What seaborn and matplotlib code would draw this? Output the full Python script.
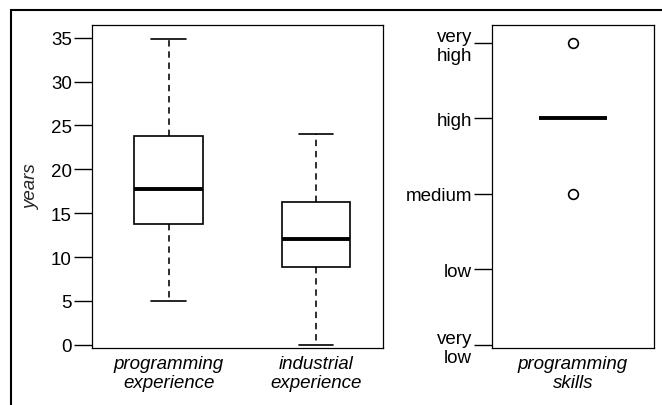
import matplotlib

matplotlib.use("Agg")

import matplotlib.pyplot as plt
import pandas as pd
import seaborn as sns
from matplotlib.patches import Rectangle

# five-number summaries: min, Q1, median, Q3, max
EXPERIENCE_LABELS = ["programming\nexperience", "industrial\nexperience"]
PROGRAMMING_YEARS = [5.0, 13.75, 17.75, 23.75, 34.8]
INDUSTRIAL_YEARS = [0.0, 8.9, 12.0, 16.3, 24.0]
YEAR_TICKS = [0, 5, 10, 15, 20, 25, 30, 35]

# skills coded 1..5; mostly "high", one "medium" and one "very high"
SKILL_LEVELS = ["very\nlow", "low", "medium", "high", "very\nhigh"]
SKILL_CODES = [1, 2, 3, 4, 5]
SKILL_LABEL = "programming\nskills"
PROGRAMMING_SKILLS = [3, 4, 4, 4, 5]

W, H = 662, 406
FONT_SIZE = 13.5

sns.set_style("white")
plt.rcParams["font.family"] = ["Liberation Sans", "DejaVu Sans"]
plt.rcParams["axes.edgecolor"] = "black"
plt.rcParams["axes.linewidth"] = 0.9

BOX_STYLE = dict(
    width=0.466,
    color="white",
    linecolor="black",
    linewidth=1.2,
    whiskerprops={"linestyle": (0, (4, 3)), "linewidth": 1.15},
    medianprops={"linewidth": 2.8},
    flierprops={
        "marker": "o",
        "markersize": 7,
        "markerfacecolor": "none",
        "markeredgecolor": "black",
        "markeredgewidth": 1.2,
    },
)


def style_axis(ax):
    ax.tick_params(axis="y", left=True, length=13, width=1.0, pad=1.5,
                   labelsize=FONT_SIZE, colors="black")
    ax.tick_params(axis="x", bottom=False, length=0, pad=5,
                   labelsize=FONT_SIZE, colors="black")
    ax.set_xlabel("")
    for spine in ax.spines.values():
        spine.set_visible(True)
        spine.set_color("black")


def italic_xlabels(ax, positions, labels):
    ax.set_xticks(positions, labels, fontstyle="italic")
    for label in ax.get_xticklabels():
        label.set_linespacing(1.15)


fig = plt.figure(figsize=(W / 100, H / 100), dpi=100)
ax_years = fig.add_axes([92 / W, 1 - 349 / H, 291 / W, 323 / H])
ax_skill = fig.add_axes([492 / W, 1 - 349 / H, 162 / W, 323 / H])

years_df = pd.DataFrame(
    {
        "variable": [EXPERIENCE_LABELS[0]] * len(PROGRAMMING_YEARS)
        + [EXPERIENCE_LABELS[1]] * len(INDUSTRIAL_YEARS),
        "value": PROGRAMMING_YEARS + INDUSTRIAL_YEARS,
    }
)
sns.boxplot(data=years_df, x="variable", y="value", ax=ax_years, **BOX_STYLE)
style_axis(ax_years)
ax_years.set_xlim(-0.52, 1.455)
ax_years.set_ylim(-0.37, 36.45)
ax_years.set_yticks(YEAR_TICKS)
italic_xlabels(ax_years, [0, 1], EXPERIENCE_LABELS)
ax_years.set_ylabel("years", fontsize=FONT_SIZE, fontstyle="italic")
ax_years.yaxis.set_label_coords(-0.179, 0.5)

skills_df = pd.DataFrame(
    {"variable": [SKILL_LABEL] * len(PROGRAMMING_SKILLS), "value": PROGRAMMING_SKILLS}
)
sns.boxplot(data=skills_df, x="variable", y="value", ax=ax_skill, **BOX_STYLE)
style_axis(ax_skill)
ax_skill.set_xlim(-0.55, 0.55)
ax_skill.set_ylim(0.956, 5.24)
ax_skill.set_yticks(SKILL_CODES, SKILL_LEVELS)
for label in ax_skill.get_yticklabels():
    label.set_linespacing(1.15)
italic_xlabels(ax_skill, [0], [SKILL_LABEL])
ax_skill.set_ylabel("")

# outer frame, cut off at the right and bottom edges
fig.add_artist(
    Rectangle((11 / W, -0.1), 1.2, 1 - 11 / H + 0.1, transform=fig.transFigure,
              fill=False, edgecolor="black", linewidth=1.5)
)

fig.savefig("out.png", dpi=100)
